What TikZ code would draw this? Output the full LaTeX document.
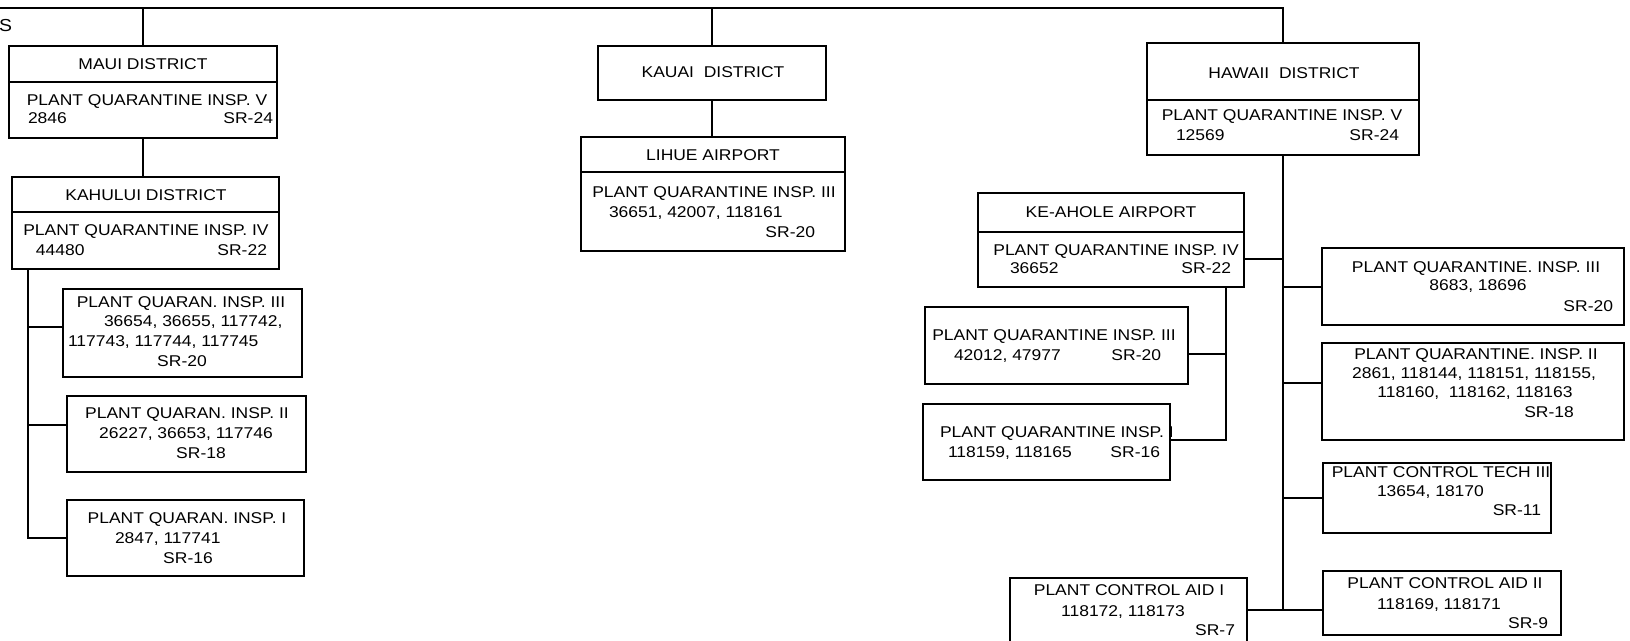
\documentclass[tikz,border=0pt]{standalone}
\usepackage{fontspec}
\setmainfont{Liberation Sans}[FakeStretch=1.12]
\usetikzlibrary{fit}
\newcommand\fs{\fontsize{11.7pt}{15pt}\selectfont}
\newcommand\T[4][center]{\node[txt,anchor=#1] (#2) at (#3) {#4};}
\newcommand\B[4]{\node[bx,fit={(#2) (#3)}] (#1) {};\ifx\relax#4\relax\else\draw (#1.west |- 0,#4) -- (#1.east |- 0,#4);\fi}
\begin{document}
\begin{tikzpicture}[x=0.75pt,y=-0.75pt,line width=1.05pt,
  txt/.style={inner sep=0pt,outer sep=0pt,text height=8.4pt,text depth=0pt,font=\fs},
  bx/.style={draw,inner sep=0pt,outer sep=0pt,rectangle}]
\useasboundingbox (0,0) rectangle (1630,640);
\clip (0,0) rectangle (1630,640);
% boxes
\B{maui}{9,46}{277,138}{82}
\B{kahului}{12,177}{279,269}{212}
\B{m3}{63,289}{302,377}{}
\B{m2}{67,396}{306,472}{}
\B{m1}{67,500}{304,576}{}
\B{kauai}{598,46}{826,100}{}
\B{lihue}{581,137}{845,251}{172}
\B{hawaii}{1147,43}{1419,155}{100}
\B{ke}{978,193}{1244,287}{232}
\B{k3}{925,307}{1188,384}{}
\B{k1}{923,404}{1170,480}{}
\B{h3}{1322,248}{1624,325}{}
\B{h2}{1322,343}{1624,440}{}
\B{pct}{1323,463}{1551,533}{}
\B{aid2}{1323,571}{1561,635}{}
\B{aid1}{1010,578}{1247,660}{}
% texts
\T[west]{s}{-1,26}{\fontsize{13pt}{15pt}\selectfont S}
\T{mauiA}{143,64}{MAUI DISTRICT}
\T{mauiB}{147,100}{PLANT QUARANTINE INSP. V}
\T[west]{mauiC}{28,118}{2846}
\T[east]{mauiD}{273,118}{SR-24}
\T{kahA}{146,195}{KAHULUI DISTRICT}
\T{kahB}{146,230}{PLANT QUARANTINE INSP. IV}
\T[west]{kahC}{36,250}{44480}
\T[east]{kahD}{267,250}{SR-22}
\T{m3A}{181,302}{PLANT QUARAN. INSP. III}
\T[west]{m3B}{104,321}{36654, 36655, 117742,}
\T[west]{m3C}{68,341}{117743, 117744, 117745}
\T{m3D}{182,361}{SR-20}
\T{m2A}{187,413}{PLANT QUARAN. INSP. II}
\T{m2B}{186,433}{26227, 36653, 117746}
\T{m2C}{201,453}{SR-18}
\T{m1A}{187,518}{PLANT QUARAN. INSP. I}
\T[west]{m1B}{115,538}{2847, 117741}
\T{m1C}{188,558}{SR-16}
\T{kauA}{713,72}{KAUAI\ \ DISTRICT}
\T{lihA}{713,155}{LIHUE AIRPORT}
\T{lihB}{714,192}{PLANT QUARANTINE INSP. III}
\T[west]{lihC}{609,212}{36651, 42007, 118161}
\T[east]{lihD}{815,232}{SR-20}
\T{hawA}{1284,73}{HAWAII\ \ DISTRICT}
\T{hawB}{1282,115}{PLANT QUARANTINE INSP. V}
\T[west]{hawC}{1176,135}{12569}
\T[east]{hawD}{1399,135}{SR-24}
\T{keA}{1111,212}{KE-AHOLE AIRPORT}
\T{keB}{1116,250}{PLANT QUARANTINE INSP. IV}
\T[west]{keC}{1010,268}{36652}
\T[east]{keD}{1231,268}{SR-22}
\T{k3A}{1054,335}{PLANT QUARANTINE INSP. III}
\T[west]{k3B}{954,355}{42012, 47977}
\T[east]{k3C}{1161,355}{SR-20}
\T[west]{k1A}{940,432}{PLANT QUARANTINE INSP. I}
\T[west]{k1B}{948,452}{118159, 118165}
\T[east]{k1C}{1160,452}{SR-16}
\T{h3A}{1476,267}{PLANT QUARANTINE. INSP. III}
\T{h3B}{1478,285}{8683, 18696}
\T[east]{h3C}{1613,306}{SR-20}
\T{h2A}{1476,354}{PLANT QUARANTINE. INSP. II}
\T{h2B}{1474,373}{2861, 118144, 118151, 118155,}
\T{h2C}{1475,392}{118160,\ \ 118162, 118163}
\T{h2D}{1549,412}{SR-18}
\T{pctA}{1441,472}{PLANT CONTROL TECH III}
\T[west]{pctB}{1377,491}{13654, 18170}
\T[east]{pctC}{1541,510}{SR-11}
\T{aid2A}{1445,583}{PLANT CONTROL AID II}
\T[west]{aid2B}{1377,604}{118169, 118171}
\T[east]{aid2C}{1548,623}{SR-9}
\T{aid1A}{1129,590}{PLANT CONTROL AID I}
\T{aid1B}{1123,611}{118172, 118173}
\T[east]{aid1C}{1235,630}{SR-7}
% connectors
\coordinate (tl) at (0,8);
\draw (tl) -| (hawaii.north);
\draw (maui.north) -- (maui.north |- tl);
\draw (kauai.north) -- (kauai.north |- tl);
\draw (maui.south) -- (maui.south |- kahului.north);
\draw (kauai.south) -- (kauai.south |- lihue.north);
\coordinate (kv1) at (28,327);
\coordinate (kv2) at (28,425);
\coordinate (kv3) at (28,538);
\draw (kahului.south -| kv1) -- (kv3) -- (kv3 -| m1.west);
\draw (kv1) -- (kv1 -| m3.west);
\draw (kv2) -- (kv2 -| m2.west);
\coordinate (hv0) at (1283,259);
\coordinate (hv1) at (1283,287);
\coordinate (hv2) at (1283,383);
\coordinate (hv3) at (1283,498);
\coordinate (hv4) at (1283,610);
\draw (hawaii.south) -- (hawaii.south |- hv4);
\draw (hv0) -- (hv0 -| ke.east);
\draw (hv1) -- (hv1 -| h3.west);
\draw (hv2) -- (hv2 -| h2.west);
\draw (hv3) -- (hv3 -| pct.west);
\draw (hv4 -| aid1.east) -- (hv4 -| aid2.west);
\coordinate (kv4) at (1226,354);
\coordinate (kv5) at (1226,440);
\draw (ke.south -| kv4) -- (kv5) -- (kv5 -| k1.east);
\draw (kv4) -- (kv4 -| k3.east);
\end{tikzpicture}
\end{document}
